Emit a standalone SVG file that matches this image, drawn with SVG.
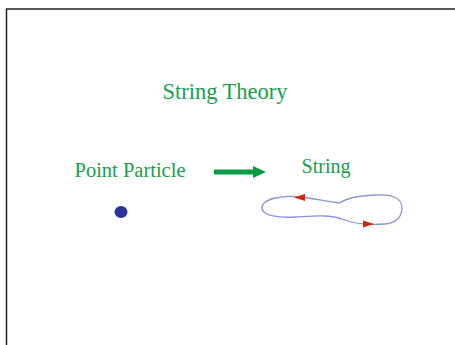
<svg xmlns="http://www.w3.org/2000/svg" width="455" height="345" viewBox="0 0 455 345">
<style>
.t{font-family:"Liberation Serif","Times New Roman",serif;fill:#16a04c}
.loop{fill:none;stroke:#8a94dc;stroke-width:1.3}
.red{fill:#d2260c}
</style>
<rect width="455" height="345" fill="#fff"/>
<path d="M6.5 345 V9 H455" fill="none" stroke="#222" stroke-width="1.5"/>
<g id="title"><text class="t" x="225" y="99" font-size="22.5" text-anchor="middle">String Theory</text></g>
<g id="point-particle">
<text class="t" x="130" y="177" font-size="20.5" text-anchor="middle">Point Particle</text>
<ellipse cx="121" cy="212" rx="6.5" ry="6" fill="#2b3596"/>
</g>
<g id="string">
<text class="t" x="326" y="173" font-size="20" text-anchor="middle">String</text>
<path class="loop" d="M339 203 C325 201,310 198,300 197 C285 195,262 198,262 208 C262 216,280 218,295 217 C315 216,330 214,345 220 C355 224,370 225,385 224 C398 223,402 215,402 208 C402 197,390 194,375 195 C355 196,348 198,339 203 Z"/>
<polygon class="red" points="294,197.5 305,194 305,201"/>
<polygon class="red" points="374,224 363,220.5 363,227.5"/>
</g>
<g id="connectors">
<polygon fill="#0a9a42" points="214,169.5 253,169.5 253,166 266,172 253,178 253,174.5 214,174.5"/>
</g>
</svg>
